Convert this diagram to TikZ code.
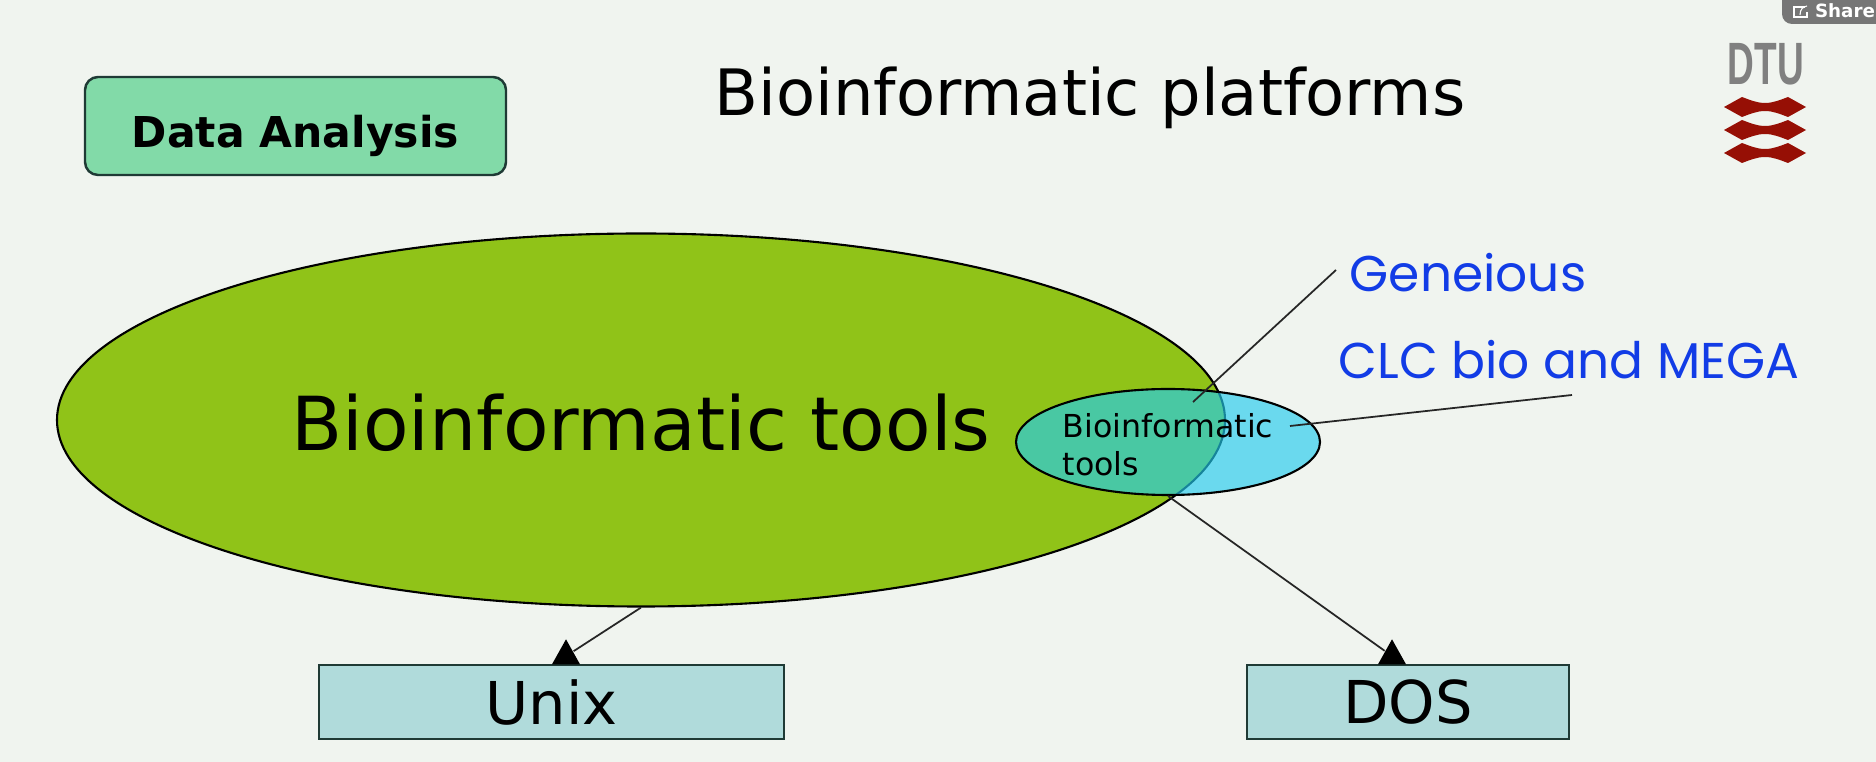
\documentclass[tikz,border=0pt]{standalone}
\usepackage{fontspec}
\usepackage{tikz}
\usetikzlibrary{shapes.geometric,positioning}
\setmainfont{DejaVu Sans}
\newfontfamily\handfont{Poppins}
\newfontfamily\logofont{Liberation Sans}
\definecolor{SlideBg}{HTML}{F0F4EF}
\definecolor{BioGreen}{HTML}{90C318}
\definecolor{BioCyan}{HTML}{23CCEE}
\definecolor{BoxTeal}{HTML}{B0DBDB}
\definecolor{BoxMint}{HTML}{82DAA8}
\definecolor{BoxEdge}{HTML}{1F3A35}
\definecolor{HandBlue}{HTML}{123CE6}
\definecolor{LogoGray}{HTML}{808080}
\definecolor{LogoRed}{HTML}{960F05}
\definecolor{ShareGray}{HTML}{767676}
\tikzset{
  figtitle/.style={font=\fontsize{18.2}{22}\selectfont, text=black},
  bioellipse/.style={ellipse, draw=black, line width=0.6pt, inner sep=0pt},
  osbox/.style={rectangle, draw=BoxEdge, line width=0.7pt, fill=BoxTeal, minimum height=.74cm, inner sep=0pt, font=\fontsize{16.8}{20}\selectfont},
  headtri/.style={isosceles triangle, isosceles triangle stretches, shape border rotate=90, fill=black, minimum width=.28cm, minimum height=.25cm, inner sep=0pt, anchor=lower side},
  handnote/.style={font=\handfont\fontsize{14.3}{17}\selectfont, text=HandBlue},
  figline/.style={draw=black!85, line width=0.5pt}
}
\begin{document}
\begin{tikzpicture}
\path[fill=SlideBg] (0,0) rectangle (18.76,7.62);
\useasboundingbox (0,0) rectangle (18.76,7.62);
\node[figtitle, anchor=base] (title) at (10.9,6.46) {Bioinformatic platforms};
\node[rectangle, rounded corners=.13cm, draw=BoxEdge, line width=0.7pt, fill=BoxMint, minimum width=4.21cm, minimum height=.98cm, text height=.44cm, text depth=0pt, font=\bfseries\fontsize{12.1}{14}\selectfont] (data) at (2.955,6.36) {Data Analysis};
\node[bioellipse, fill=BioGreen, minimum width=11.68cm, minimum height=3.73cm, text height=.62cm, text depth=0pt, font=\fontsize{21.2}{25}\selectfont] (big) at (6.41,3.42) {Bioinformatic tools};
\node[bioellipse, fill=BioCyan, fill opacity=.65, text opacity=1, minimum width=3.04cm, minimum height=1.06cm, align=left, font=\fontsize{9}{10.8}\selectfont] (small) at (11.68,3.20) {\rule{0pt}{8.4pt}Bioinformatic\\tools};
\node[osbox, minimum width=4.65cm] (unix) at (5.515,.60) {Unix};
\node[osbox, minimum width=3.22cm] (dos) at (14.08,.60) {DOS};
\node[headtri] (unixhead) at (5.66,.97) {};
\node[headtri] (doshead) at (13.92,.97) {};
\node[handnote] (geneious) at (14.68,4.89) {Geneious};
\node[handnote] (clc) at (15.69,4.02) {CLC bio and MEGA};
\coordinate (genin) at (11.93,3.60);
\coordinate (genend) at (13.36,4.92);
\coordinate (clcin) at (12.90,3.36);
\coordinate (clcend) at (15.72,3.67);
\draw[figline] (big.south) -- (unixhead);
\draw[figline] (small.south) -- (doshead);
\draw[figline] (genin) -- (genend);
\draw[figline] (clcin) -- (clcend);
% logo and share tab
\node[font=\logofont\bfseries\fontsize{17}{20}\selectfont, text=LogoGray] (dtu) at (17.66,6.98) {\scalebox{.62}[1]{DTU}};
\foreach \ly in {6.55,6.32,6.09} {
  \fill[LogoRed] (17.24,\ly) -- (17.42,\ly+.1) .. controls (17.5,\ly+.07) and (17.57,\ly+.04) .. (17.65,\ly+.04) .. controls (17.73,\ly+.04) and (17.8,\ly+.07) .. (17.88,\ly+.1) -- (18.06,\ly) -- (17.88,\ly-.1) .. controls (17.8,\ly-.07) and (17.73,\ly-.04) .. (17.65,\ly-.04) .. controls (17.57,\ly-.04) and (17.5,\ly-.07) .. (17.42,\ly-.1) -- cycle;
}
\fill[ShareGray] (17.82,7.62) [rounded corners=.1cm] -- (17.82,7.38) [sharp corners] -- (18.76,7.38) -- (18.76,7.62) -- cycle;
\node[anchor=base, text=white, font=\bfseries\fontsize{5.2}{6}\selectfont] (share) at (18.45,7.44) {Share};
\draw[white, line width=0.3pt] (18.05,7.55) -- (17.94,7.55) -- (17.94,7.45) -- (18.07,7.45) -- (18.07,7.5);
\draw[white, line width=0.3pt] (18.0,7.47) .. controls (18.0,7.53) and (18.03,7.55) .. (18.07,7.56);
\end{tikzpicture}
\end{document}
